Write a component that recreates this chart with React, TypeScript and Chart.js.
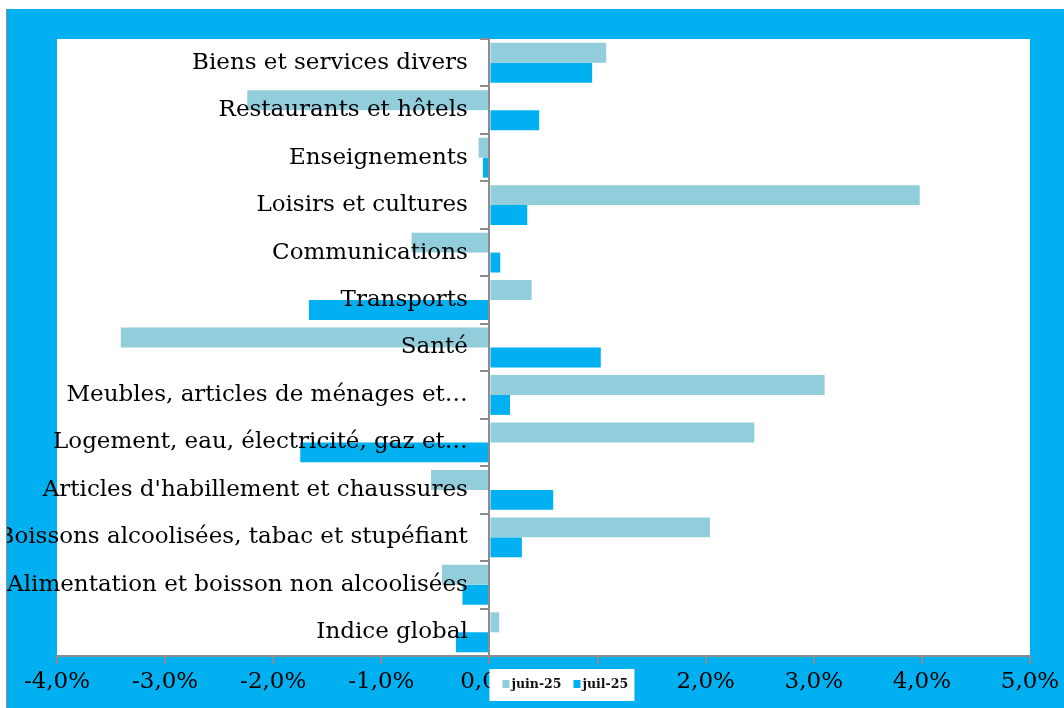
import React, { useEffect, useRef } from "react";
import { Chart, registerables } from "chart.js";

Chart.register(...registerables);

const categories = [
  "Biens et services divers",
  "Restaurants et hôtels",
  "Enseignements",
  "Loisirs et cultures",
  "Communications",
  "Transports",
  "Santé",
  "Meubles, articles de ménages et…",
  "Logement, eau, électricité, gaz et…",
  "Articles d'habillement et chaussures",
  "Boissons alcoolisées, tabac et stupéfiant",
  "Alimentation et boisson non alcoolisées",
  "Indice global",
];

const juin25 = [1.08, -2.24, -0.1, 3.98, -0.72, 0.39, -3.41, 3.1, 2.45, -0.54, 2.04, -0.44, 0.09];
const juil25 = [0.95, 0.46, -0.06, 0.35, 0.1, -1.67, 1.03, 0.19, -1.75, 0.59, 0.3, -0.25, -0.31];

const seriesNames = ["juin-25", "juil-25"];
const seriesColors = ["#92CDDC", "#00B0F0"];
const xMin = -4;
const xMax = 5;

const SERIF = "'DejaVu Serif', serif";
const AXIS_GREY = "#8c8c8c";

const plotBackground = {
  id: "plotBackground",
  beforeDraw(chart: any) {
    const { ctx, chartArea } = chart;
    ctx.save();
    ctx.fillStyle = "#ffffff";
    ctx.fillRect(chartArea.left, chartArea.top, chartArea.right - chartArea.left, chartArea.bottom - chartArea.top);
    ctx.restore();
  },
};

const boxLegend = {
  id: "boxLegend",
  afterDraw(chart: any) {
    const ctx = chart.ctx;
    const x0 = chart.scales.x.getPixelForValue(0);
    const top = chart.chartArea.bottom + 13;
    ctx.save();
    ctx.fillStyle = "#ffffff";
    ctx.fillRect(x0, top, 145, 32);
    ctx.font = "bold 12.5px " + SERIF;
    ctx.textBaseline = "alphabetic";
    ctx.textAlign = "left";
    let x = x0 + 13;
    chart.data.datasets.forEach((ds: any) => {
      ctx.fillStyle = ds.backgroundColor;
      ctx.fillRect(x, top + 11, 7, 8);
      ctx.fillStyle = "#111111";
      ctx.fillText(ds.label, x + 9, top + 19);
      x += 9 + ctx.measureText(ds.label).width + 12;
    });
    ctx.restore();
  },
};

export default function App() {
  const ref = useRef<HTMLCanvasElement>(null);

  useEffect(() => {
    if (!ref.current) return;
    const chart = new Chart(ref.current, {
      type: "bar",
      data: {
        labels: categories,
        datasets: [
          {
            label: seriesNames[0],
            data: juin25,
            backgroundColor: seriesColors[0],
            barPercentage: 1,
            categoryPercentage: 0.84,
          },
          {
            label: seriesNames[1],
            data: juil25,
            backgroundColor: seriesColors[1],
            barPercentage: 1,
            categoryPercentage: 0.84,
          },
        ],
      },
      options: {
        indexAxis: "y",
        responsive: false,
        animation: false,
        layout: { padding: { left: 50, top: 30, right: 34, bottom: 0 } },
        plugins: {
          legend: { display: false },
          tooltip: { enabled: false },
        },
        scales: {
          x: {
            type: "linear",
            min: xMin,
            max: xMax,
            afterFit: (s: any) => {
              s.height = 52;
            },
            grid: {
              display: true,
              drawOnChartArea: false,
              drawTicks: true,
              tickLength: 8,
              color: AXIS_GREY,
              lineWidth: 2,
            },
            border: { display: true, color: AXIS_GREY, width: 2 },
            ticks: {
              stepSize: 1,
              padding: 4,
              color: "#000000",
              font: { family: SERIF, size: 23 },
              maxRotation: 0,
              callback: (v: any) => Number(v).toFixed(1).replace(".", ",") + "%",
            },
          },
          y: {
            type: "category",
            position: { x: -0.2 } as any,
            offset: true,
            grid: { display: false },
            border: { display: false },
            ticks: {
              z: 1,
              color: "#000000",
              autoSkip: false,
              font: { family: SERIF, size: 23 },
            },
          },
          y2: {
            type: "category",
            position: { x: 0 } as any,
            offset: true,
            grid: {
              display: true,
              drawOnChartArea: false,
              offset: true,
              tickLength: 8,
              color: AXIS_GREY,
              lineWidth: 2,
              z: 1,
            },
            border: { display: true, color: AXIS_GREY, width: 2, z: 1 },
            ticks: { display: false },
          },
        },
      },
      plugins: [plotBackground, boxLegend],
    });
    return () => chart.destroy();
  }, []);

  return (
    <div
      style={{
        position: "absolute",
        left: 6,
        top: 9,
        width: 1058,
        height: 699,
        background: "#00B0F0",
        borderLeft: "1px solid #8c8c8c",
        boxSizing: "border-box",
        overflow: "hidden",
      }}
    >
      <canvas ref={ref} width={1057} height={699} style={{ display: "block" }} />
    </div>
  );
}
